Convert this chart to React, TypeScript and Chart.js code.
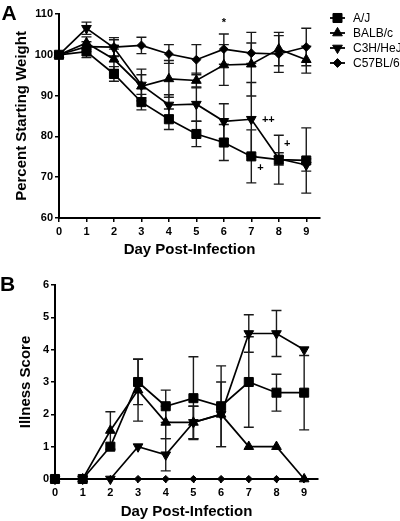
import React, { useEffect, useRef } from "react";
import { Chart, registerables } from "chart.js";
import { drawPoint } from "chart.js/helpers";

Chart.register(...registerables);

// ---------------- data ----------------
const days = [0, 1, 2, 3, 4, 5, 6, 7, 8, 9];
const strainNames = ["A/J", "BALB/c", "C3H/HeJ", "C57BL/6"];

// Panel A: percent starting weight (mean, SEM)
const ajWeight = [100, 100.8, 95.3, 88.4, 84.2, 80.6, 78.5, 75.1, 74.3, 74.1];
const ajWeightErr = [0, 1.5, 1.8, 1.9, 2.5, 3.1, 4.4, 6.5, 6.0, 8.0];
const balbWeight = [100, 102.9, 98.9, 92.3, 94.1, 93.7, 97.5, 97.7, 101.4, 98.8];
const balbWeightErr = [0, 1.5, 2.5, 2.8, 4.5, 1.8, 5.0, 7.8, 4.1, 3.3];
const c3hWeight = [100, 106.5, 101.7, 92.6, 87.7, 87.9, 83.7, 84.2, 74.5, 73.0];
const c3hWeightErr = [0, 1.5, 2.0, 3.9, 2.5, 4.2, 4.3, 9.0, 1.5, 1.5];
const c57Weight = [100, 102.0, 101.9, 102.3, 100.2, 98.8, 101.4, 100.4, 100.2, 101.9];
const c57WeightErr = [0, 1.2, 2.3, 2.0, 2.3, 3.7, 3.7, 2.5, 4.5, 4.6];

// Panel A significance marks
const weightMarks = ["*", "++", "+", "+"];
const weightMarkDay = [6, 7.62, 8.31, 7.33];
const weightMarkValue = [107.8, 84.1, 78.2, 72.3];

// Panel B: illness score (mean, SEM)
const ajScore = [0, 0, 1, 3, 2.25, 2.5, 2.25, 3, 2.67, 2.67];
const ajScoreErr = [0, 0, 0, 0.7, 0.5, 1.28, 1.25, 1.4, 0.57, 1.15];
const balbScore = [0, 0, 1.5, 2.75, 1.75, 1.75, 2, 1, 1, 0];
const balbScoreErr = [0, 0, 0.58, 0.96, 0.5, 0.5, 1, 0, 0, 0];
const c3hScore = [0, 0, 0, 1, 0.75, 1.75, 2, 4.5, 4.5, 4];
const c3hScoreErr = [0, 0, 0, 0, 0.5, 0.5, 0, 0.58, 0.71, 0];
const c57Score = [0, 0, 0, 0, 0, 0, 0, 0, 0, 0];
const c57ScoreErr = [0, 0, 0, 0, 0, 0, 0, 0, 0, 0];

// ---------------- styles ----------------
const FONT = "Arial, 'Liberation Sans', Helvetica, sans-serif";
const markerStylesA = [
  { pointStyle: "rect", rotation: 0, radius: 6.4 },
  { pointStyle: "triangle", rotation: 0, radius: 5.6 },
  { pointStyle: "triangle", rotation: 180, radius: 5.6 },
  { pointStyle: "rectRot", rotation: 0, radius: 4.4 },
];
const markerStylesB = [
  { pointStyle: "rect", rotation: 0, radius: 6.4 },
  { pointStyle: "triangle", rotation: 0, radius: 5.6 },
  { pointStyle: "triangle", rotation: 180, radius: 5.6 },
  { pointStyle: "rectRot", rotation: 0, radius: 3.6 },
];

// ---------------- plugins ----------------
const errorBarsPlugin = {
  id: "errorBars",
  beforeDatasetsDraw(chart: any) {
    const { ctx, scales } = chart;
    const ys = scales.y;
    ctx.save();
    ctx.strokeStyle = "#1a1a1a";
    ctx.lineWidth = 1.4;
    chart.data.datasets.forEach((ds: any, i: number) => {
      const meta = chart.getDatasetMeta(i);
      (ds.errors || []).forEach((e: number, j: number) => {
        if (!e) return;
        const pt = meta.data[j];
        const v = ds.data[j].y;
        const top = ys.getPixelForValue(v + e);
        const bot = ys.getPixelForValue(v - e);
        const x = pt.x;
        const cap = 5;
        ctx.beginPath();
        ctx.moveTo(x, top);
        ctx.lineTo(x, bot);
        ctx.moveTo(x - cap, top);
        ctx.lineTo(x + cap, top);
        ctx.moveTo(x - cap, bot);
        ctx.lineTo(x + cap, bot);
        ctx.stroke();
      });
    });
    ctx.restore();
  },
};

const panelLabelPlugin = {
  id: "panelLabel",
  afterDraw(chart: any, _args: any, opts: any) {
    const ctx = chart.ctx;
    ctx.save();
    ctx.fillStyle = "#000";
    ctx.font = `bold 21px ${FONT}`;
    ctx.textAlign = "left";
    ctx.textBaseline = "alphabetic";
    ctx.fillText(opts.text, opts.x, opts.y);
    ctx.restore();
  },
};

const marksPlugin = {
  id: "marks",
  afterDatasetsDraw(chart: any, _args: any, opts: any) {
    if (!opts.texts) return;
    const { ctx, scales } = chart;
    ctx.save();
    ctx.fillStyle = "#000";
    ctx.font = `bold 11px ${FONT}`;
    ctx.textAlign = "center";
    ctx.textBaseline = "middle";
    opts.texts.forEach((t: string, i: number) => {
      ctx.fillText(t, scales.x.getPixelForValue(opts.xs[i]), scales.y.getPixelForValue(opts.ys[i]));
    });
    ctx.restore();
  },
};

const sideLegendPlugin = {
  id: "sideLegend",
  afterDraw(chart: any, _args: any, opts: any) {
    if (!opts.show) return;
    const ctx = chart.ctx;
    ctx.save();
    chart.data.datasets.forEach((ds: any, i: number) => {
      const y = opts.top + i * opts.rowGap;
      ctx.strokeStyle = "#000";
      ctx.lineWidth = 1.8;
      ctx.beginPath();
      ctx.moveTo(opts.x, y);
      ctx.lineTo(opts.x + 15, y);
      ctx.stroke();
      ctx.fillStyle = "#000";
      ctx.lineWidth = 1;
      drawPoint(ctx, { pointStyle: ds.pointStyle, rotation: ds.pointRotation, radius: ds.pointRadius, borderWidth: 1 } as any, opts.x + 7.5, y);
      ctx.font = `12px ${FONT}`;
      ctx.textAlign = "left";
      ctx.textBaseline = "middle";
      ctx.fillText(ds.label, opts.x + 23, y + 0.5);
    });
    ctx.restore();
  },
};

// ---------------- config builder ----------------
function buildConfig(p: {
  series: number[][];
  errors: number[][];
  markers: any[];
  yMin: number;
  yMax: number;
  yTicks: number[];
  yTitle: string;
  yTitlePad: number;
  yWidth: number;
  xHeight: number;
  xTitlePad: number;
  padTop: number;
  padRight: number;
  label: { text: string; x: number; y: number };
  marks?: { texts: string[]; xs: number[]; ys: number[] };
  legend: boolean;
}) {
  const datasets = p.series.map((vals, i) => ({
    label: strainNames[i],
    data: days.map((d, j) => ({ x: d, y: vals[j] })),
    errors: p.errors[i],
    borderColor: "#000",
    borderWidth: 1.7,
    backgroundColor: "#000",
    pointStyle: p.markers[i].pointStyle,
    pointRotation: p.markers[i].rotation,
    pointRadius: p.markers[i].radius,
    pointBackgroundColor: "#000",
    pointBorderColor: "#000",
    pointBorderWidth: 1,
    tension: 0,
    clip: false as any,
    fill: false,
  }));
  const tickFont = { family: FONT, size: 11, weight: "bold" as any };
  const titleFont = { family: FONT, size: 15, weight: "bold" as any };
  return {
    type: "line" as const,
    data: { datasets },
    plugins: [errorBarsPlugin, panelLabelPlugin, marksPlugin, sideLegendPlugin],
    options: {
      animation: false as const,
      responsive: false,
      devicePixelRatio: 1,
      events: [],
      layout: { padding: { top: p.padTop, right: p.padRight, left: 0, bottom: 0 } },
      plugins: {
        legend: { display: false },
        tooltip: { enabled: false },
        panelLabel: p.label,
        marks: p.marks || {},
        sideLegend: { show: p.legend, x: 330, top: 18, rowGap: 15 },
      },
      scales: {
        x: {
          type: "linear" as const,
          min: 0,
          max: 9.5,
          afterBuildTicks: (s: any) => {
            s.ticks = days.map((d) => ({ value: d }));
          },
          afterFit: (s: any) => {
            s.height = p.xHeight;
          },
          ticks: { font: tickFont, color: "#000", padding: 3, maxRotation: 0, autoSkip: false },
          grid: { drawOnChartArea: false, drawTicks: true, tickLength: 4, color: "#000", lineWidth: 1.5 },
          border: { display: true, color: "#000", width: 2 },
          title: { display: true, text: "Day Post-Infection", font: titleFont, color: "#000", padding: { top: 0, bottom: p.xTitlePad } },
        },
        y: {
          type: "linear" as const,
          min: p.yMin,
          max: p.yMax,
          afterBuildTicks: (s: any) => {
            s.ticks = p.yTicks.map((v) => ({ value: v }));
          },
          afterFit: (s: any) => {
            s.width = p.yWidth;
          },
          ticks: { font: tickFont, color: "#000", padding: 2 },
          grid: { drawOnChartArea: false, drawTicks: true, tickLength: 4, color: "#000", lineWidth: 1.5 },
          border: { display: true, color: "#000", width: 2 },
          title: { display: true, text: p.yTitle, font: titleFont, color: "#000", padding: { top: p.yTitlePad, bottom: 0 } },
        },
      },
    },
  };
}

function ChartPanel({ top, height, make }: { top: number; height: number; make: () => any }) {
  const ref = useRef<HTMLCanvasElement>(null);
  useEffect(() => {
    const chart = new Chart(ref.current as HTMLCanvasElement, make());
    return () => chart.destroy();
  }, []);
  return (
    <canvas
      ref={ref}
      width={400}
      height={height}
      style={{ position: "absolute", left: 0, top, width: 400, height, display: "block" }}
    />
  );
}

export default function App() {
  const makeA = () =>
    buildConfig({
      series: [ajWeight, balbWeight, c3hWeight, c57Weight],
      errors: [ajWeightErr, balbWeightErr, c3hWeightErr, c57WeightErr],
      markers: markerStylesA,
      yMin: 60,
      yMax: 110,
      yTicks: [60, 70, 80, 90, 100, 110],
      yTitle: "Percent Starting Weight",
      yTitlePad: 13,
      yWidth: 59,
      xHeight: 47,
      xTitlePad: 6,
      padTop: 14,
      padRight: 80,
      label: { text: "A", x: 1.5, y: 20 },
      marks: { texts: weightMarks, xs: weightMarkDay, ys: weightMarkValue },
      legend: true,
    });
  const makeB = () =>
    buildConfig({
      series: [ajScore, balbScore, c3hScore, c57Score],
      errors: [ajScoreErr, balbScoreErr, c3hScoreErr, c57ScoreErr],
      markers: markerStylesB,
      yMin: 0,
      yMax: 6,
      yTicks: [0, 1, 2, 3, 4, 5, 6],
      yTitle: "Illness Score",
      yTitlePad: 17,
      yWidth: 55,
      xHeight: 42,
      xTitlePad: 0,
      padTop: 20,
      padRight: 82,
      label: { text: "B", x: 0, y: 26 },
      legend: false,
    });
  return (
    <div style={{ position: "absolute", left: 0, top: 0, width: 400, height: 521, background: "#fff" }}>
      <ChartPanel top={0} height={265} make={makeA} />
      <ChartPanel top={265} height={256} make={makeB} />
    </div>
  );
}
